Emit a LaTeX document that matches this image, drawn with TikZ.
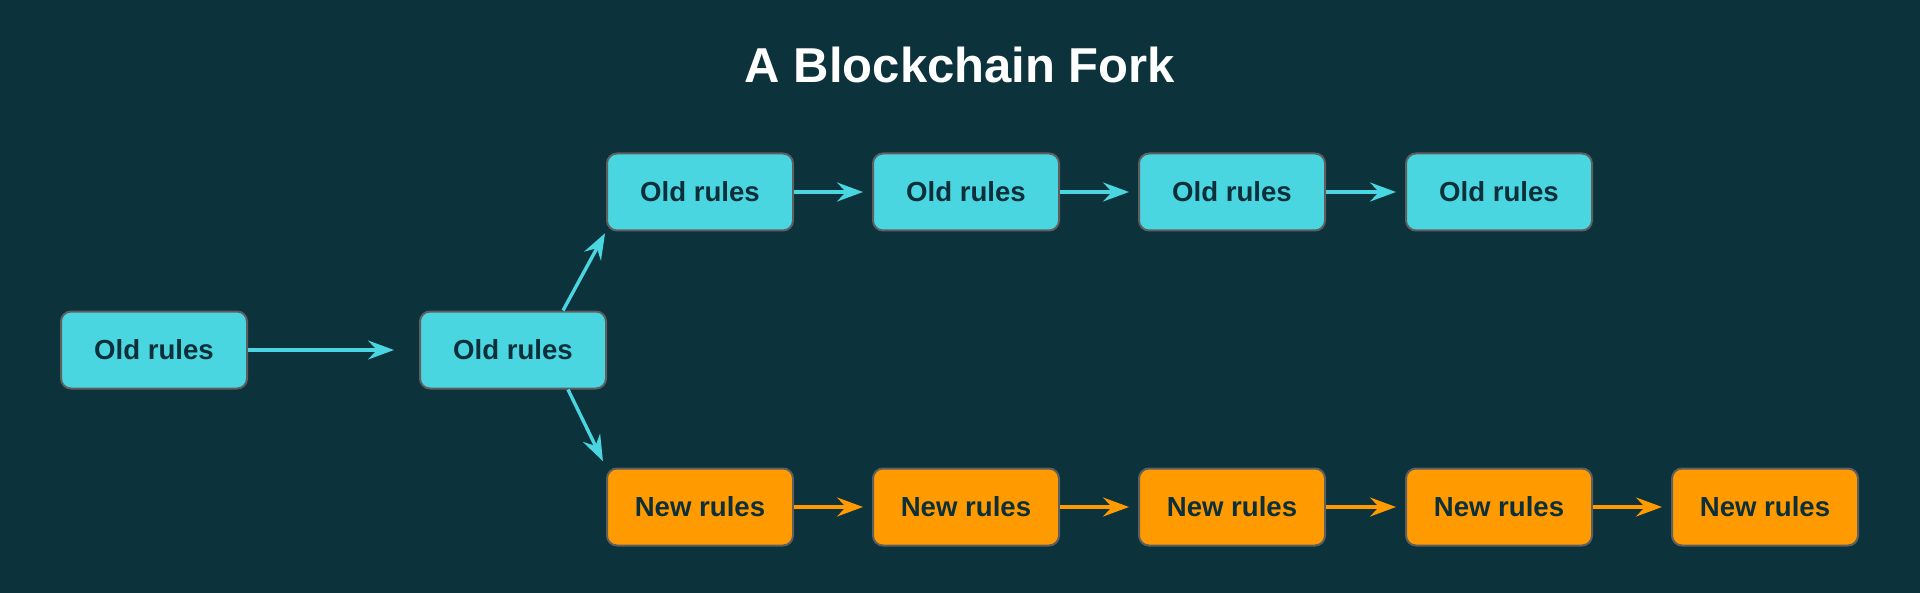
\documentclass[tikz,border=0pt]{standalone}
\usepackage{fontspec}
\setmainfont{Liberation Sans}
\usetikzlibrary{arrows.meta}
\definecolor{bgc}{HTML}{0C323C}
\definecolor{cyanbox}{HTML}{4AD6E0}
\definecolor{orangebox}{HTML}{FF9B00}
\definecolor{txtc}{HTML}{0C2F3A}
\definecolor{borderc}{HTML}{5F5F5F}
\tikzset{
  blockbox/.style={draw=borderc, line width=1pt, rounded corners=5pt,
    minimum width=93pt, minimum height=38.5pt, inner sep=0pt,
    text=txtc, font=\fontsize{13.8pt}{16pt}\selectfont\bfseries},
  oldbox/.style={blockbox, fill=cyanbox},
  newbox/.style={blockbox, fill=orangebox},
  link/.style={line width=1.7pt, -{Stealth[length=13pt,width=9.5pt,inset=4.5pt]}},
  oldlink/.style={link, draw=cyanbox},
  newlink/.style={link, draw=orangebox},
  titletext/.style={text=white, font=\fontsize{24.5pt}{28pt}\selectfont\bfseries}
}
\begin{document}
\begin{tikzpicture}[x=0.5pt,y=-0.5pt]
\fill[bgc] (0,0) rectangle (1920,593);
\useasboundingbox (0,0) rectangle (1920,593);
\node[titletext] (title) at (960,65) {A Blockchain Fork};
\node[oldbox] (b1) at (154,350) {Old rules};
\node[oldbox] (b2) at (513,350) {Old rules};
\node[oldbox] (t1) at (700,192) {Old rules};
\node[oldbox] (t2) at (966,192) {Old rules};
\node[oldbox] (t3) at (1232,192) {Old rules};
\node[oldbox] (t4) at (1499,192) {Old rules};
\node[newbox] (n1) at (700,507) {New rules};
\node[newbox] (n2) at (966,507) {New rules};
\node[newbox] (n3) at (1232,507) {New rules};
\node[newbox] (n4) at (1499,507) {New rules};
\node[newbox] (n5) at (1765,507) {New rules};
\draw[oldlink, shorten >=12.5pt] (b1) -- (b2);
\draw[oldlink, shorten >=1pt] ([xshift=25pt]b2.north) -- (t1.south west);
\draw[oldlink, shorten >=3.5pt] ([xshift=27.5pt]b2.south) -- (n1.north west);
\draw[oldlink, shorten >=4.5pt] (t1) -- (t2);
\draw[oldlink, shorten >=4.5pt] (t2) -- (t3);
\draw[oldlink, shorten >=4.5pt] (t3) -- (t4);
\draw[newlink, shorten >=4.5pt] (n1) -- (n2);
\draw[newlink, shorten >=4.5pt] (n2) -- (n3);
\draw[newlink, shorten >=4.5pt] (n3) -- (n4);
\draw[newlink, shorten >=4.5pt] (n4) -- (n5);
\end{tikzpicture}
\end{document}
